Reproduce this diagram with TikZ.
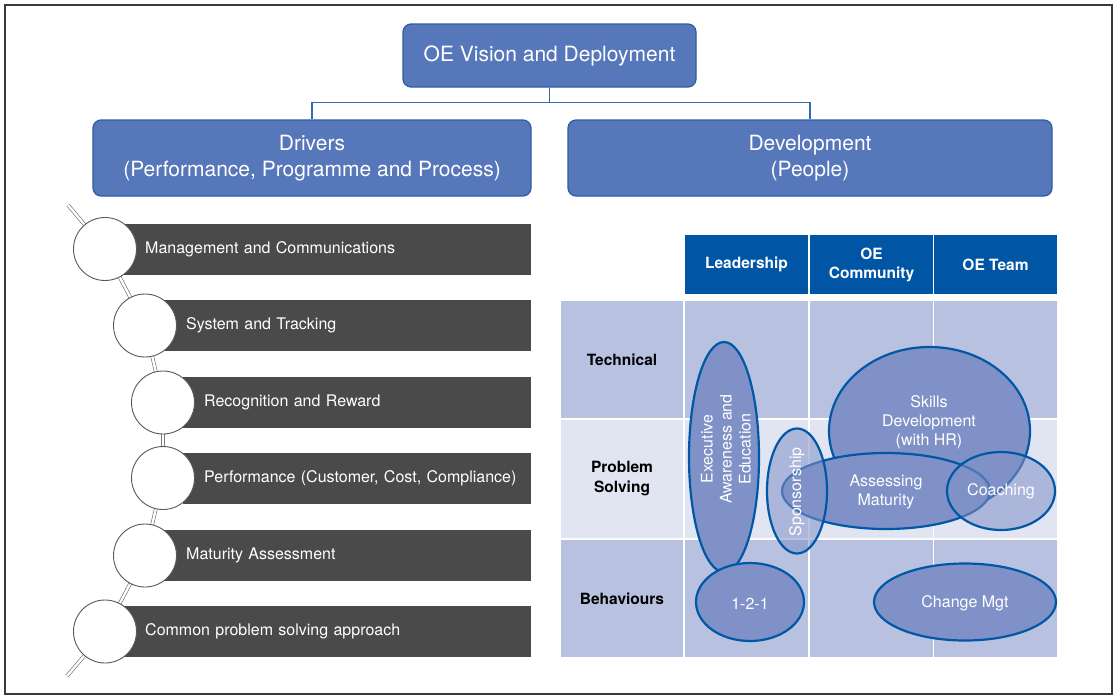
\documentclass[tikz,border=0pt]{standalone}
\usepackage{fontspec}
\setmainfont{TeX Gyre Heros}
\usepackage{tikz}
\usetikzlibrary{shapes.geometric}
\definecolor{boxblue}{HTML}{5677BA}
\definecolor{boxedge}{HTML}{2B5CA6}
\definecolor{linkblue}{HTML}{2F6CB3}
\definecolor{bargray}{HTML}{4A4A4A}
\definecolor{hdrblue}{HTML}{0055A5}
\definecolor{cellmid}{HTML}{B8C2E0}
\definecolor{celllight}{HTML}{E1E5F2}
\definecolor{ovalfill}{HTML}{7F91C7}
\definecolor{ovaledge}{HTML}{0057A6}
\definecolor{framegray}{HTML}{3A3A3A}

\begin{document}
\begin{tikzpicture}[
  x=1pt, y=-1pt,
  topbox/.style={draw=boxedge, line width=1.2pt, fill=boxblue, rounded corners=8pt, text=white, align=center, inner sep=0pt, font=\fontsize{21}{26}\selectfont},
  link/.style={draw=linkblue, line width=1.4pt},
  bar/.style={fill=bargray, text=white, anchor=west, minimum height=51pt, inner xsep=0pt, text width=#1, align=left, execute at begin node={\hspace*{21pt}}, font=\fontsize{16}{19}\selectfont},
  ring/.style={circle, draw=gray!70!black, fill=white, line width=0.9pt, minimum size=63pt, inner sep=0pt},
  spine/.style={draw=gray!80!black, double=white, double distance=2.4pt, line width=0.6pt},
  head/.style={fill=hdrblue, text=white, minimum width=123pt, minimum height=59pt, inner sep=0pt, align=center, font=\bfseries\fontsize{15.5}{19}\selectfont},
  cell/.style={fill=#1, minimum width=123pt, minimum height=117pt, inner sep=0pt},
  rowlabel/.style={fill=#1, minimum width=122pt, minimum height=117pt, inner sep=0pt, align=center, font=\bfseries\fontsize{15.5}{20}\selectfont},
  oval/.style={ellipse, draw=ovaledge, line width=2.2pt, fill=ovalfill, inner sep=0pt},
  ovaltext/.style={text=white, align=center, inner sep=0pt, font=\fontsize{16}{19}\selectfont}
]
  \useasboundingbox (0,0) rectangle (1118,699);
  \draw[framegray, line width=2.5pt] (5,5) rectangle (1112,694);

  % Top of the tree
  \node[topbox, minimum width=293pt, minimum height=63pt] (vision) at (549.5,55.5) {OE Vision and Deployment};
  \node[topbox, minimum width=438pt, minimum height=76pt] (drivers) at (312,158) {Drivers\\(Performance, Programme and Process)};
  \node[topbox, minimum width=484pt, minimum height=76pt] (devel) at (810,158) {Development\\(People)};

  \draw[link] (vision.south) -- ++(0,15) coordinate (fork);
  \draw[link] (fork) -| (drivers.north);
  \draw[link] (fork) -| (devel.north);

  % Spine of the drivers
  \coordinate (spinetop) at (68,205);
  \coordinate (spinebot) at (67,676);
  \coordinate (p1) at (105,249);
  \coordinate (p2) at (145,325.5);
  \coordinate (p3) at (163,402.5);
  \coordinate (p4) at (163,478);
  \coordinate (p5) at (145,555.5);
  \coordinate (p6) at (105,631.5);
  \draw[spine] (spinetop) -- (p1) -- (p2) -- (p3) -- (p4) -- (p5) -- (p6) -- (spinebot);

  % Driver bars
  \node[bar=407pt] (mgmt) at (124,249) {Management and Communications};
  \node[bar=366pt] (track) at (165,325.5) {System and Tracking};
  \node[bar=348pt] (reward) at (183,402.5) {Recognition and Reward};
  \node[bar=348pt] (perf) at (183,478) {Performance (Customer, Cost, Compliance)};
  \node[bar=366pt] (matur) at (165,555.5) {Maturity Assessment};
  \node[bar=407pt] (common) at (124,631.5) {Common problem solving approach};

  \node[ring] (ring1) at (p1) {};
  \node[ring] (ring2) at (p2) {};
  \node[ring] (ring3) at (p3) {};
  \node[ring] (ring4) at (p4) {};
  \node[ring] (ring5) at (p5) {};
  \node[ring] (ring6) at (p6) {};

  % Development grid: header
  \node[head] (lead) at (746.5,264.5) {Leadership};
  \node[head] (comm) at (871.5,264.5) {OE\\Community};
  \node[head] (team) at (995.5,264.5) {OE Team};

  % Development grid: rows
  \node[rowlabel=cellmid] (tech) at (622,359.5) {Technical};
  \node[rowlabel=celllight, minimum height=118pt] (probl) at (622,479) {Problem\\Solving};
  \node[rowlabel=cellmid] (behav) at (622,598.5) {Behaviours};

  \node[cell=cellmid] (techlead) at (746.5,359.5) {};
  \node[cell=cellmid] (techcomm) at (871.5,359.5) {};
  \node[cell=cellmid] (techteam) at (995.5,359.5) {};
  \node[cell=celllight, minimum height=118pt] (problead) at (746.5,479) {};
  \node[cell=celllight, minimum height=118pt] (problcomm) at (871.5,479) {};
  \node[cell=celllight, minimum height=118pt] (probltam) at (995.5,479) {};
  \node[cell=cellmid] (behavlead) at (746.5,598.5) {};
  \node[cell=cellmid] (behavcomm) at (871.5,598.5) {};
  \node[cell=cellmid] (behavteam) at (995.5,598.5) {};

  % Ovals
  \node[oval, rotate=90, minimum width=230pt, minimum height=70pt] (exec) at (724,457) {};
  \node[ovaltext, rotate=90] (exectxt) at (726,449) {Executive\\Awareness and\\Education};

  \node[oval, minimum width=201pt, minimum height=168pt] (skills) at (929.5,431) {};
  \node[ovaltext] (skillstxt) at (929,422) {Skills\\Development\\(with HR)};

  \node[oval, minimum width=208pt, minimum height=76pt] (assess) at (886,491) {};
  \node[ovaltext] (assesstxt) at (886,492) {Assessing\\Maturity};

  \node[oval, fill opacity=0.55, rotate=90, minimum width=125pt, minimum height=60pt] (spons) at (797,491) {};
  \node[ovaltext, rotate=90] (sponstxt) at (797,492) {Sponsorship};

  \node[oval, fill opacity=0.55, minimum width=108pt, minimum height=78pt] (coach) at (1001,491) {};
  \node[ovaltext] (coachtxt) at (1001,491) {Coaching};

  \node[oval, minimum width=108pt, minimum height=78pt] (onetoone) at (750,602) {};
  \node[ovaltext] (onetoonetxt) at (750,604) {1-2-1};

  \node[oval, minimum width=182pt, minimum height=77pt] (change) at (965,602) {};
  \node[ovaltext] (changetxt) at (965,603) {Change Mgt};
\end{tikzpicture}
\end{document}
